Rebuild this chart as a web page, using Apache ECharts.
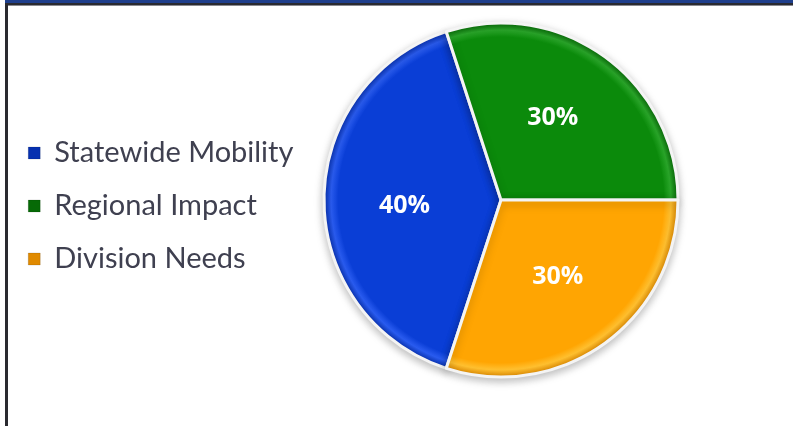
<!DOCTYPE html>
<html>
<head>
<meta charset="utf-8">
<script src="https://cdn.jsdelivr.net/npm/echarts@6/dist/echarts.min.js"></script>
<style>
html,body{margin:0;padding:0;background:#fff;}
#wrap{position:relative;width:793px;height:426px;overflow:hidden;background:#fff;}
#chart{position:absolute;left:0;top:0;width:793px;height:426px;}
#topband{position:absolute;left:5px;top:0;width:788px;height:3px;background:#1f3f8c;}
#topline{position:absolute;left:5px;top:3px;width:788px;height:2px;background:#2a2a30;}
#topgray{position:absolute;left:8px;top:5px;width:785px;height:1px;background:#8a8a90;}
#leftline{position:absolute;left:5px;top:3px;width:3px;height:423px;background:#2a2a30;}
</style>
</head>
<body>
<div id="wrap">
<div id="chart"></div>
<div id="topband"></div><div id="topline"></div><div id="topgray"></div><div id="leftline"></div>
</div>
<script>
const categories = ['Statewide Mobility', 'Regional Impact', 'Division Needs'];
const values = [40, 30, 30];
const colors = ['#0a3ed6', '#0b8a0b', '#ffa502'];
const rims = ['#0630b0', '#066a06', '#e08a00'];
const highs = ['#2a5cf0', '#2aa82a', '#ffc030'];
const labelOffsets = [[-5, 6], [-2, -8], [3, 3]];

const cx = 501, cy = 200, R = 177;
function grad(i){
  return {
    type:'radial', x:cx, y:cy, r:R, global:true,
    colorStops:[
      {offset:0, color:colors[i]},
      {offset:0.92, color:colors[i]},
      {offset:0.96, color:highs[i]},
      {offset:1, color:rims[i]}
    ]
  };
}
const chart = echarts.init(document.getElementById('chart'), null, {renderer:'canvas'});
chart.setOption({
  animation:false,
  legend:{
    orient:'vertical', left:23, top:133,
    itemWidth:12, itemHeight:12, itemGap:23,
    icon:'rect',
    data:categories,
    itemStyle:{borderColor:'rgba(0,0,0,0.25)', borderWidth:0.5},
    textStyle:{fontFamily:'Lato', fontSize:29, color:'#3f4050', lineHeight:30, padding:[0,0,0,9]}
  },
  series:[{
    type:'pie',
    center:[cx, cy], radius:[0, R],
    startAngle:252, clockwise:true,
    label:{show:true, position:'inside', formatter:'{c}%', color:'#fff', fontFamily:'Open Sans', fontWeight:'bold', fontSize:25},
    labelLine:{show:false},
    itemStyle:{borderColor:'#f4f4f4', borderWidth:3, shadowBlur:8, shadowColor:'rgba(0,0,0,0.25)', shadowOffsetY:3},
    data:categories.map((n,i)=>({name:n, value:values[i], itemStyle:{color:grad(i)}, label:{offset:labelOffsets[i]}}))
  }],
  color:colors
});
</script>
</body>
</html>
